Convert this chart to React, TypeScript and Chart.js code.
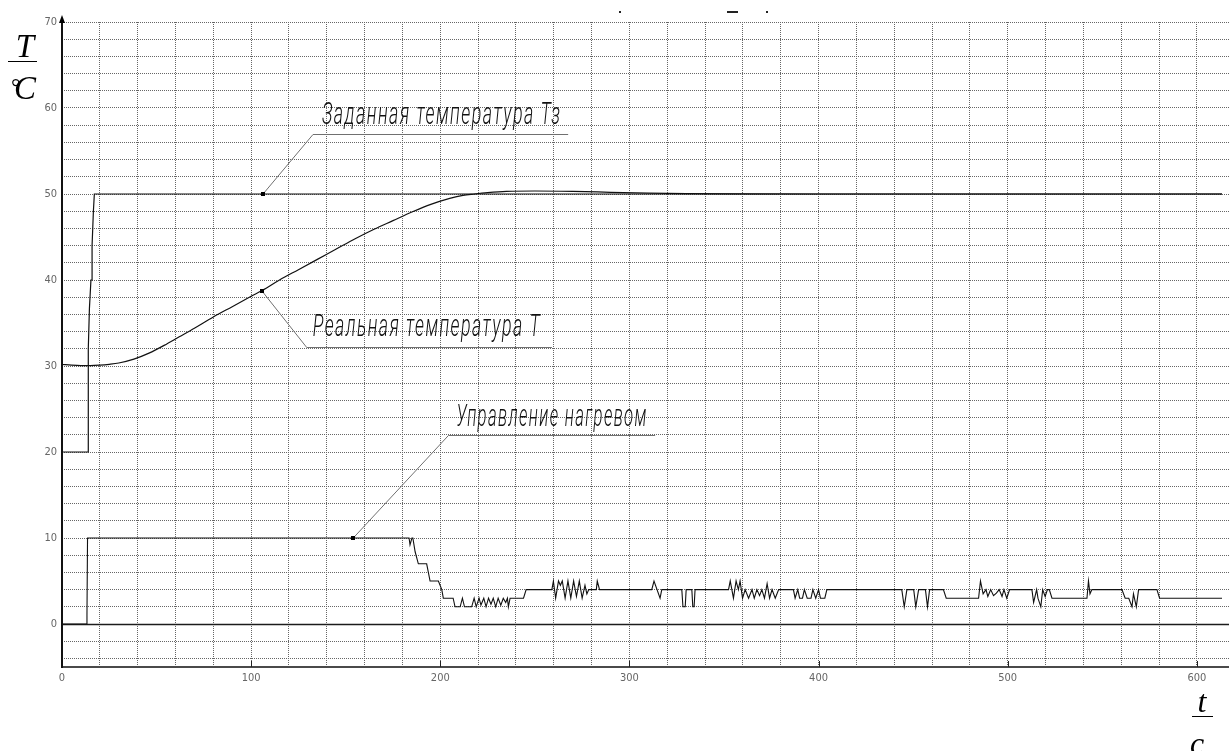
import React, { useEffect, useRef } from "react";
import { Chart, registerables } from "chart.js";

Chart.register(...registerables);

// ---- data (time in seconds, values in °C / control units) ----
const setpointTime = [0, 13.9, 13.9, 14.5, 15.3, 15.9, 15.9, 16.6, 17.1, 613.3];
const setpointTemp = [20, 20, 32, 36.7, 40, 40, 44, 48, 50, 50];

const realTime = [0, 5, 10, 15, 20, 25, 30, 38, 46, 54, 62, 70, 80, 90, 100, 106, 115, 125, 135, 145, 155, 165, 175, 185, 195, 205, 212, 218, 225, 235, 250, 270, 290, 310, 330, 360, 400, 450, 500, 550, 613.3];
const realTemp = [30.2, 30.1, 30.05, 30.05, 30.1, 30.2, 30.35, 30.8, 31.5, 32.4, 33.4, 34.4, 35.7, 36.9, 38.1, 38.8, 40.0, 41.2, 42.4, 43.6, 44.8, 45.9, 46.9, 47.9, 48.8, 49.5, 49.85, 50.0, 50.15, 50.3, 50.35, 50.3, 50.2, 50.1, 50.05, 50.02, 50.0, 50.0, 50.0, 50.0, 50.0];

const controlSignal: [number, number][] = [
  [0, 0], [13.0, 0], [13.2, 1], [13.5, 10],
  [183.5, 10], [184, 9.2], [185, 10], [185.5, 10],
  [186.7, 8.4], [188.4, 7], [192.8, 7], [194.6, 5], [199, 5], [200.8, 4], [201.6, 3], [206.8, 3],
  [207.8, 2], [210.5, 2], [211.7, 3], [212.8, 2], [216.6, 2],
  [217.9, 3], [219, 2], [220.5, 3], [221.5, 2.2], [223, 3], [224.2, 2], [225.5, 3], [226.8, 2.3],
  [228, 3], [229.3, 2], [230.6, 3], [232, 2.2], [233.3, 3], [234.6, 2.5], [235.5, 3], [236, 2],
  [236.9, 3], [244, 3], [245.4, 4], [259, 4],
  [259.8, 5], [261, 3], [262.5, 5], [263.5, 4.5], [264.5, 5], [266, 3], [267.5, 5], [269, 3],
  [270.5, 5], [272, 3.2], [273.5, 5], [275, 3], [276.5, 4.5], [277.5, 3.5], [278.5, 4],
  [282.5, 4], [283, 5], [284.2, 4],
  [311.8, 4], [313, 5], [316.2, 3], [317.1, 4], [327.7, 4], [328.3, 2], [329.5, 2], [330, 4],
  [333, 4], [333.5, 2], [334.2, 2], [334.7, 4],
  [352.4, 4], [353.3, 5], [355, 3], [356.4, 5], [357.6, 4], [358.5, 5], [359.8, 3], [361.2, 4],
  [363, 3], [364.8, 4], [366, 3], [367.4, 4], [368.8, 3.3], [370, 4], [371.4, 3], [372.8, 4.7],
  [374.1, 3], [375.4, 4], [377.1, 3], [378.9, 4],
  [386.7, 4], [387.6, 3], [389, 4], [390, 3], [391.5, 3], [392.5, 4], [394, 3], [396, 3], [397, 4],
  [398.5, 3], [400, 4], [401, 3], [403.3, 3], [404.4, 4],
  [444, 4], [445.3, 2], [446.7, 4], [450.3, 4], [451.4, 2], [452.9, 4], [456.5, 4], [457.6, 2],
  [458.7, 4], [466, 4], [467.5, 3], [484.6, 3], [485.6, 5], [487, 3.5], [488.5, 4], [489.5, 3.2],
  [491, 4], [492.5, 3.3], [494, 3.6], [495.5, 4], [497, 3.2], [498, 4], [499.5, 3], [501, 4], [503, 4],
  [512.8, 4], [513.7, 2.5], [515.3, 4], [516, 3], [517.5, 2], [518.5, 4], [519.8, 3.2], [521, 4],
  [522, 4], [523.4, 3], [541.9, 3], [542.7, 5], [543.5, 3.5], [544.5, 4],
  [560.4, 4], [562.1, 3], [564, 3], [565.7, 2], [566.5, 3.5], [568, 2], [569.2, 4], [578.9, 4],
  [580.3, 3], [613.3, 3],
];

const xLabelValues = [0, 100, 200, 300, 400, 500, 600];
const yLabelValues = [0, 10, 20, 30, 40, 50, 60, 70];

const annotations = [
  { text: "Заданная температура Тз", anchor: [106.3, 50], elbow: [132.7, 56.98], lineEnd: 267.6 },
  { text: "Реальная температура Т", anchor: [105.6, 38.76], elbow: [129.4, 32.24], lineEnd: 259 },
  { text: "Управление нагревом", anchor: [154, 10], elbow: [204.3, 21.98], lineEnd: 313.6 },
];
// text layout (pixels): inset from elbow, rise above underline, target width
const annotationStyle = [
  { inset: 9, rise: 11, width: 238 },
  { inset: 6, rise: 12, width: 227 },
  { inset: 8, rise: 10, width: 190 },
];

const toXY = (xs: number[], ys: number[]) => xs.map((t, i) => ({ x: t, y: ys[i] }));

const decorPlugin = {
  id: "decor",
  beforeDatasetsDraw(chart: any) {
    const { ctx, chartArea: a, scales } = chart;
    const y0 = Math.round(scales.y.getPixelForValue(0)) + 0.5;
    ctx.save();
    ctx.setLineDash([]);
    ctx.strokeStyle = "#1c1c1c";
    ctx.lineWidth = 1.5;
    ctx.beginPath();
    ctx.moveTo(a.left, y0);
    ctx.lineTo(a.right, y0);
    ctx.stroke();
    ctx.restore();
  },
  afterDraw(chart: any) {
    const { ctx, chartArea: a, scales } = chart;
    const sx = scales.x;
    const sy = scales.y;
    ctx.save();
    ctx.setLineDash([]);
    // x axis
    ctx.strokeStyle = "#4a4a4a";
    ctx.lineWidth = 2;
    ctx.beginPath();
    ctx.moveTo(a.left, a.bottom);
    ctx.lineTo(a.right, a.bottom);
    ctx.stroke();
    // major x ticks
    ctx.lineWidth = 1;
    ctx.strokeStyle = "#222";
    for (const v of xLabelValues) {
      const px = Math.round(sx.getPixelForValue(v)) + 0.5;
      ctx.beginPath();
      ctx.moveTo(px, a.bottom);
      ctx.lineTo(px, a.bottom - 6);
      ctx.stroke();
    }
    // y axis
    ctx.strokeStyle = "#111";
    ctx.lineWidth = 2;
    ctx.beginPath();
    ctx.moveTo(a.left, a.bottom + 1);
    ctx.lineTo(a.left, a.top - 1);
    ctx.stroke();
    // arrow
    ctx.fillStyle = "#000";
    ctx.beginPath();
    ctx.moveTo(a.left, a.top - 7);
    ctx.lineTo(a.left - 3, a.top + 1);
    ctx.lineTo(a.left + 3, a.top + 1);
    ctx.closePath();
    ctx.fill();

    // annotations
    const spacing = 2.5;
    annotations.forEach((an, i) => {
      const st = annotationStyle[i];
      const mx = sx.getPixelForValue(an.anchor[0]);
      const my = sy.getPixelForValue(an.anchor[1]);
      const ex = sx.getPixelForValue(an.elbow[0]);
      const ey = Math.round(sy.getPixelForValue(an.elbow[1])) + 0.5;
      const ux = sx.getPixelForValue(an.lineEnd);
      ctx.strokeStyle = "#707070";
      ctx.lineWidth = 1;
      ctx.beginPath();
      ctx.moveTo(mx, my);
      ctx.lineTo(ex, ey);
      ctx.lineTo(ux, ey);
      ctx.stroke();
      ctx.fillStyle = "#000";
      ctx.fillRect(Math.round(mx) - 2, Math.round(my) - 2, 4, 4);
      ctx.font = 'italic 300 31px Roboto, "DejaVu Sans", sans-serif';
      (ctx as any).letterSpacing = spacing + "px";
      ctx.textBaseline = "alphabetic";
      ctx.textAlign = "left";
      const w = ctx.measureText(an.text).width - spacing;
      ctx.save();
      ctx.translate(ex + st.inset, ey - st.rise);
      ctx.scale(st.width / w, 1);
      ctx.fillStyle = "#111";
      ctx.fillText(an.text, 0, 0);
      ctx.restore();
      (ctx as any).letterSpacing = "0px";
    });

    // axis titles
    ctx.fillStyle = "#000";
    ctx.textBaseline = "alphabetic";
    ctx.textAlign = "center";
    ctx.font = 'italic 33px "Liberation Serif", "DejaVu Serif", serif';
    ctx.fillText("T", 25, 57);
    ctx.textAlign = "left";
    ctx.fillText("C", 14, 99);
    ctx.font = '24px "Liberation Serif", "DejaVu Serif", serif';
    ctx.fillText("°", 11, 95);
    ctx.strokeStyle = "#000";
    ctx.lineWidth = 1;
    ctx.beginPath();
    ctx.moveTo(8, 61.5);
    ctx.lineTo(37, 61.5);
    ctx.stroke();
    ctx.textAlign = "center";
    ctx.font = 'italic 32px "Liberation Serif", "DejaVu Serif", serif';
    ctx.fillText("t", 1202, 712);
    ctx.fillText("c", 1197, 754);
    ctx.beginPath();
    ctx.moveTo(1192, 716.5);
    ctx.lineTo(1213, 716.5);
    ctx.stroke();

    // remnants of a clipped title at the very top
    ctx.fillStyle = "#222";
    ctx.fillRect(619, 11, 2, 2);
    ctx.fillRect(727, 11, 11, 2);
    ctx.fillRect(766, 11, 2, 2);
    ctx.restore();
  },
};

export default function App() {
  const ref = useRef<HTMLCanvasElement | null>(null);
  useEffect(() => {
    if (!ref.current) return;
    const lineStyle = {
      borderColor: "#111",
      borderWidth: 1.2,
      pointRadius: 0,
      fill: false,
      tension: 0,
    };
    const tickFont = { family: '"Liberation Sans Narrow", "DejaVu Sans Condensed", "Liberation Sans", sans-serif', size: 11 };
    const chart = new Chart(ref.current, {
      type: "line",
      data: {
        datasets: [
          { label: "Заданная температура Тз", data: toXY(setpointTime, setpointTemp), ...lineStyle },
          { label: "Реальная температура Т", data: toXY(realTime, realTemp), ...lineStyle, cubicInterpolationMode: "monotone" },
          { label: "Управление нагревом", data: controlSignal.map(([t, v]) => ({ x: t, y: v })), ...lineStyle, borderWidth: 1.1 },
        ],
      },
      options: {
        responsive: false,
        animation: false,
        events: [],
        layout: { padding: { top: 22, right: 1, left: 0, bottom: 0 } },
        plugins: { legend: { display: false }, tooltip: { enabled: false }, title: { display: false } },
        scales: {
          x: {
            type: "linear",
            min: 0,
            max: 617,
            afterFit: (s: any) => { s.height = 84; },
            ticks: {
              stepSize: 20,
              includeBounds: false,
              autoSkip: false,
              maxRotation: 0,
              padding: 5,
              color: "#666",
              font: tickFont,
              callback: (v: any) => (xLabelValues.includes(Number(v)) ? String(v) : ""),
            },
            grid: { color: "#666", lineWidth: 1, drawTicks: false },
            border: { display: false, dash: [1, 1] },
          },
          y: {
            type: "linear",
            min: -5,
            max: 70,
            afterFit: (s: any) => { s.width = 62; },
            ticks: {
              stepSize: 2,
              includeBounds: false,
              autoSkip: false,
              padding: 5,
              color: "#666",
              font: tickFont,
              callback: (v: any) => (yLabelValues.includes(Number(v)) ? String(v) : ""),
            },
            grid: { color: "#666", lineWidth: 1, drawTicks: false },
            border: { display: false, dash: [1, 1] },
          },
        },
      },
      plugins: [decorPlugin],
    } as any);
    return () => chart.destroy();
  }, []);
  return (
    <div style={{ position: "absolute", left: 0, top: 0, width: 1230, height: 751, background: "#fff" }}>
      <canvas ref={ref} width={1230} height={751} style={{ display: "block", width: 1230, height: 751 }} />
    </div>
  );
}
